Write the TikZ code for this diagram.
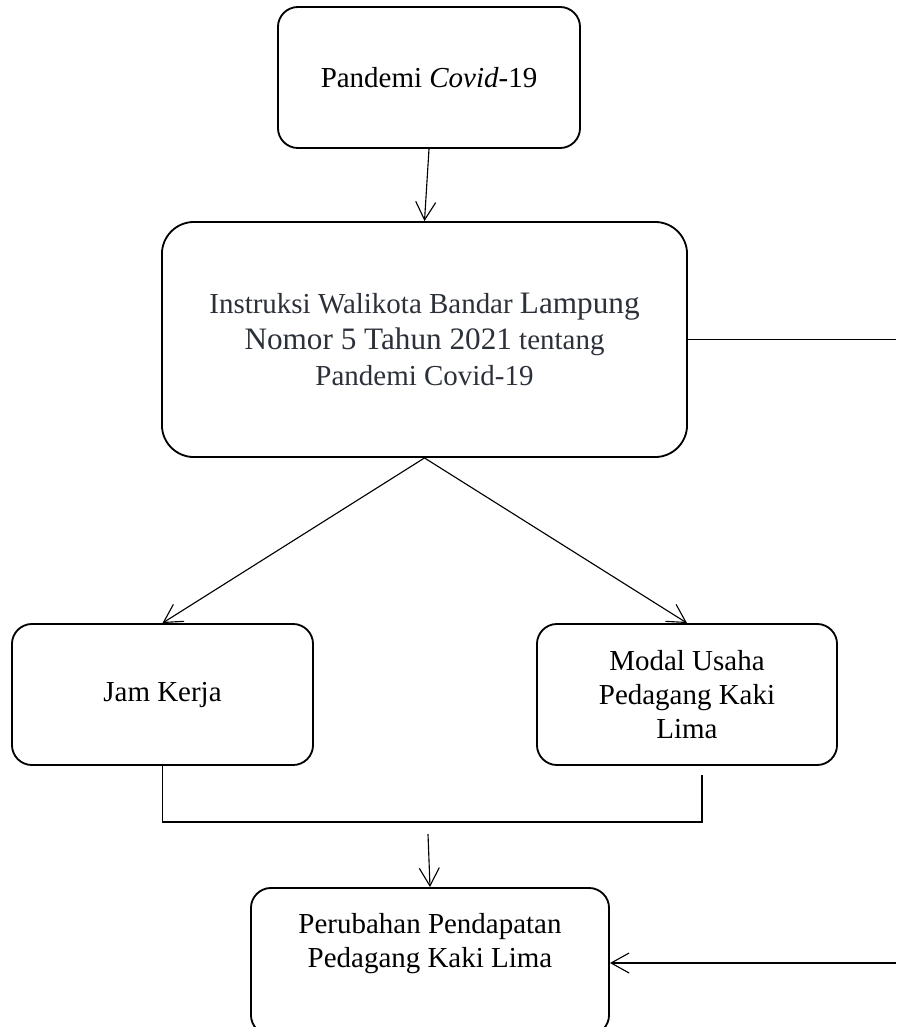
\documentclass[tikz,border=0pt]{standalone}
\usepackage{fontspec}
\setmainfont{Liberation Serif}
\usepackage{tikz}
\usetikzlibrary{positioning, arrows.meta}
\definecolor{abuTua}{RGB}{44, 49, 57}
\tikzset{
    kotak/.style={draw, rectangle, rounded corners=0.5cm, line width=1.3pt, align=center, inner sep=0pt, font=\fontsize{20.6}{24.2}\selectfont},
    kotakBesar/.style={kotak, rounded corners=0.8cm, text=abuTua, font=\fontsize{20.6}{25.6}\selectfont},
    conn/.style={-, black, line width=1pt},
    arr/.style={-{Straight Barb[length=0.45cm, width=0.5cm]}, black, line width=0.8pt},
}

\begin{document}
\begin{tikzpicture}[x=0.025cm, y=-0.025cm]
        \useasboundingbox (0,0) rectangle (896,1027);
        \clip (0,0) rectangle (896,1027);

        \node [kotak, minimum width=7.55cm, minimum height=3.525cm] (pandemi) at (429,77.5) {Pandemi \textit{Covid}-19};
        \node [kotakBesar, minimum width=13.125cm, minimum height=5.875cm] (instruksi) at (424.5,339.5)
            {Instruksi Walikota Bandar {\fontsize{22.2}{25.6}\selectfont Lampung}\\
             {\fontsize{22.2}{25.6}\selectfont Nomor 5 Tahun 2021} tentang\\
             Pandemi Covid-19};
        \node [kotak, minimum width=7.525cm, minimum height=3.525cm] (jam) at (162.5,694.5) {Jam Kerja};
        \node [kotak, minimum width=7.5cm, minimum height=3.525cm] (modal) at (687,694.5) {Modal Usaha\\Pedagang Kaki\\Lima};
        \node [kotak, minimum width=8.95cm, minimum height=3.675cm] (perubahan) at (430,961.5) {Perubahan Pendapatan\\Pedagang Kaki Lima\\[5.7pt]\mbox{}};

        \coordinate (tepiAtas) at (896,340);
        \coordinate (tepiBawah) at (896,963);
        \coordinate (garisKanan) at (702,822);
        \coordinate (ujungKanan) at (702,775);
        \coordinate (tengah) at (428,834);

        \draw[arr] (pandemi.south) -- (instruksi.north);

        \draw[arr] (instruksi.south) -- (jam.north);
        \draw[arr] (instruksi.south) -- (modal.north);

        \draw[conn] (jam.south) |- (garisKanan) -- (ujungKanan);
        \draw[arr] (tengah) -- (perubahan.north);

        \draw[conn] (instruksi.east) -- (instruksi.east -| tepiAtas);
        \draw[arr] (tepiBawah) -- (tepiBawah -| perubahan.east);
\end{tikzpicture}
\end{document}
